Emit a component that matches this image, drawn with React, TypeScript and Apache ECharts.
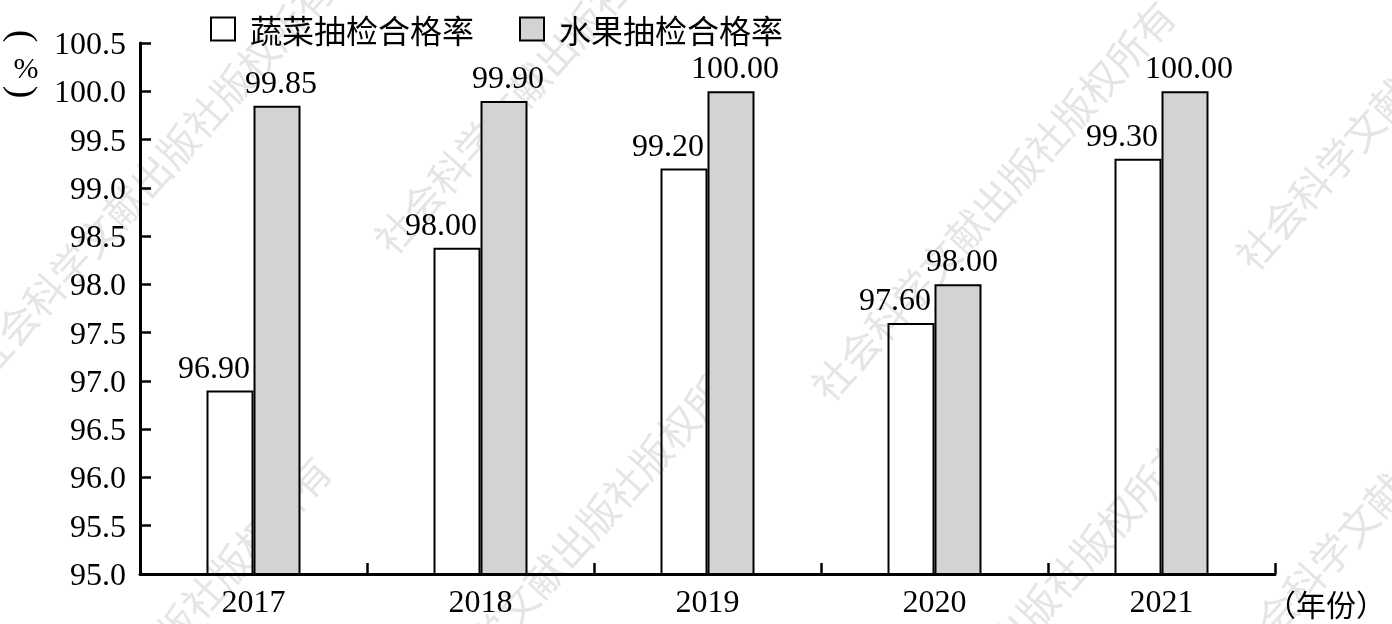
import React, { useEffect, useRef } from "react";
import * as echarts from "echarts";

const years = ["2017", "2018", "2019", "2020", "2021"];
const seriesNames = ["蔬菜抽检合格率", "水果抽检合格率"];
// bar heights as drawn in the picture
const vegValues = [96.9, 98.38, 99.2, 97.6, 99.3];
const fruitValues = [99.85, 99.9, 100.0, 98.0, 100.0];
// printed labels
const vegLabels = ["96.90", "98.00", "99.20", "97.60", "99.30"];
const fruitLabels = ["99.85", "99.90", "100.00", "98.00", "100.00"];
const yMin = 95.0;
const yMax = 100.5;
const yStep = 0.5;
const xUnit = "（年份）";
const watermarkText = "社会科学文献出版社版权所有";

const NUM_FONT = "'Liberation Serif', 'Times New Roman', serif";
const CJK_FONT = "'Noto Sans CJK SC', sans-serif";

export default function App() {
  const ref = useRef<HTMLDivElement>(null);

  useEffect(() => {
    if (!ref.current) return;
    const chart = echarts.init(ref.current, undefined, { renderer: "svg" });

    const wmPos = [
      [150, 175],
      [148, 655],
      [555, 53],
      [570, 545],
      [992, 200],
      [1416, 69],
      [1010, 635],
      [1410, 464],
    ];
    const watermarks = wmPos.map(([x, y]) => ({
      type: "text",
      x,
      y,
      rotation: (48 * Math.PI) / 180,
      z: -1,
      silent: true,
      style: {
        text: watermarkText,
        fill: "#e5e5e5",
        fontSize: 40,
        fontFamily: CJK_FONT,
        align: "center",
        verticalAlign: "middle",
      },
    }));

    const option = {
      animation: false,
      grid: { left: 140, right: 117, top: 43, bottom: 50 },
      legend: {
        left: 205,
        top: 8,
        itemWidth: 24,
        itemHeight: 23,
        itemGap: 45,
        icon: "rect",
        textStyle: {
          fontSize: 32,
          fontFamily: CJK_FONT,
          color: "#000",
          padding: [0, 0, 0, 10],
        },
        data: seriesNames,
      },
      xAxis: {
        type: "category",
        data: years,
        axisLine: { show: true, lineStyle: { color: "#000", width: 3 } },
        axisTick: {
          show: true,
          inside: true,
          length: 11,
          lineStyle: { color: "#000", width: 2.5 },
        },
        axisLabel: {
          fontSize: 32,
          fontFamily: NUM_FONT,
          color: "#000",
          margin: 11,
        },
        splitLine: { show: false },
      },
      yAxis: {
        type: "value",
        min: yMin,
        max: yMax,
        interval: yStep,
        axisLine: { show: true, lineStyle: { color: "#000", width: 3 } },
        axisTick: {
          show: true,
          inside: true,
          length: 11,
          lineStyle: { color: "#000", width: 2.5 },
        },
        axisLabel: {
          fontSize: 32,
          fontFamily: NUM_FONT,
          color: "#000",
          margin: 14,
          formatter: (v: number) => v.toFixed(1),
        },
        splitLine: { show: false },
      },
      series: [
        {
          name: seriesNames[0],
          type: "bar",
          data: vegValues,
          barWidth: 47,
          barGap: "0%",
          itemStyle: {
            color: "rgba(255,255,255,0)",
            borderColor: "#000",
            borderWidth: 2,
          },
          label: {
            show: true,
            position: "top",
            distance: 8,
            align: "right",
            offset: [20, 0],
            fontSize: 32,
            fontFamily: NUM_FONT,
            color: "#000",
            formatter: (p: any) => vegLabels[p.dataIndex],
          },
        },
        {
          name: seriesNames[1],
          type: "bar",
          data: fruitValues,
          barWidth: 47,
          barGap: "0%",
          itemStyle: {
            color: "#d2d3d4",
            borderColor: "#000",
            borderWidth: 2,
          },
          label: {
            show: true,
            position: "top",
            distance: 8,
            offset: [4, 0],
            fontSize: 32,
            fontFamily: NUM_FONT,
            color: "#000",
            formatter: (p: any) => fruitLabels[p.dataIndex],
          },
        },
      ],
      graphic: [
        ...watermarks,
        {
          type: "text",
          x: 24,
          y: 36,
          rotation: -Math.PI / 2,
          style: {
            text: "(",
            fontSize: 38,
            fontFamily: NUM_FONT,
            fill: "#000",
            align: "center",
            verticalAlign: "middle",
          },
        },
        {
          type: "text",
          x: 26,
          y: 67,
          style: {
            text: "%",
            fontSize: 30,
            fontFamily: NUM_FONT,
            fill: "#000",
            align: "center",
            verticalAlign: "middle",
          },
        },
        {
          type: "text",
          x: 24,
          y: 92,
          rotation: -Math.PI / 2,
          style: {
            text: ")",
            fontSize: 38,
            fontFamily: NUM_FONT,
            fill: "#000",
            align: "center",
            verticalAlign: "middle",
          },
        },
        {
          type: "text",
          x: 1266,
          y: 603,
          style: {
            text: xUnit,
            fontSize: 30,
            fontFamily: CJK_FONT,
            fill: "#000",
            align: "left",
            verticalAlign: "middle",
          },
        },
      ],
    };

    chart.setOption(option as any);
    return () => chart.dispose();
  }, []);

  return (
    <div
      ref={ref}
      style={{ position: "fixed", left: 0, top: 0, width: 1392, height: 624 }}
    />
  );
}
